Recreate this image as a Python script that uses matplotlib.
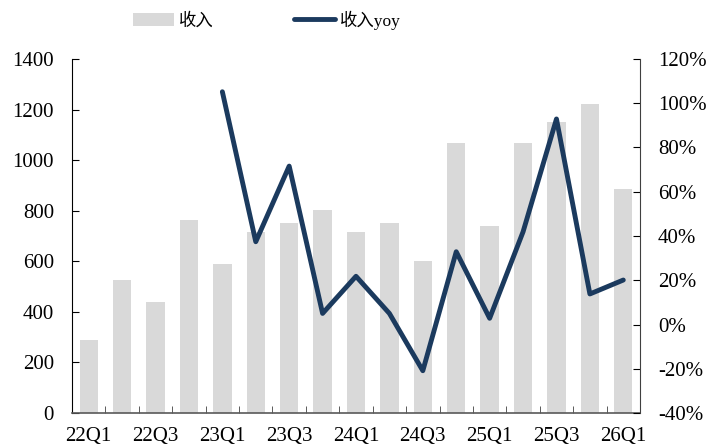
import matplotlib
matplotlib.use("Agg")
import matplotlib.pyplot as plt
import numpy as np
from matplotlib.lines import Line2D
from matplotlib.patches import Patch

quarters = ["22Q1","22Q2","22Q3","22Q4","23Q1","23Q2","23Q3","23Q4",
            "24Q1","24Q2","24Q3","24Q4","25Q1","25Q2","25Q3","25Q4","26Q1"]
revenue = [289, 525, 438, 765, 588, 717, 750, 804, 717, 751, 600, 1069, 738, 1066, 1151, 1221, 887]
yoy = [None, None, None, None, 105.2, 37.4, 71.6, 5.0, 21.8, 5.0, -20.9, 32.9, 2.8, 41.9, 92.9, 13.8, 20.1]

FONT = ["Liberation Serif", "Noto Sans CJK SC"]
plt.rcParams['font.family'] = FONT

fig = plt.figure(figsize=(7.08, 4.48), dpi=100)
ax = fig.add_axes([72/708, 35/448, 568/708, 354/448])
x = np.arange(len(quarters))
ax.bar(x, revenue, width=0.55, color="#d9d9d9", zorder=1)
ax.set_xlim(-0.5, len(quarters) - 0.5)
ax.set_ylim(0, 1400)
ax.set_yticks(range(0, 1401, 200))
ax.tick_params(axis='y', direction='in', length=5, labelsize=15, pad=13)
ax.set_xticks(x[::2])
ax.set_xticklabels(quarters[::2])
ax.set_xticks(x[:-1] + 0.5, minor=True)
ax.tick_params(axis='x', which='major', length=0, labelsize=15, pad=10)
ax.tick_params(axis='x', which='minor', direction='in', length=5, color="#404040")
for s in ['top', 'right']:
    ax.spines[s].set_visible(False)
ax.spines['bottom'].set_color("#595959")
ax.spines['bottom'].set_linewidth(1.2)

ax2 = ax.twinx()
xv = [i for i, v in enumerate(yoy) if v is not None]
yv = [v for v in yoy if v is not None]
ax2.plot(xv, yv, color="#1b3a5e", linewidth=3.5, solid_joinstyle='round',
         solid_capstyle='round', zorder=3)
ax2.set_ylim(-40, 120)
ax2.set_yticks(range(-40, 121, 20))
ax2.set_yticklabels([f"{v}%" for v in range(-40, 121, 20)])
ax2.tick_params(axis='y', direction='in', length=5, labelsize=15, pad=13)
for s in ['top', 'left', 'bottom']:
    ax2.spines[s].set_visible(False)
ax2.spines['right'].set_color("#404040")

handles = [Patch(facecolor="#d9d9d9", edgecolor="none"),
           Line2D([0], [0], color="#1b3a5e", linewidth=3.5, solid_capstyle='round')]
fig.legend(handles, ["收入", "收入yoy"], loc='center', bbox_to_anchor=(267/708, 1 - 20/448),
           ncol=2, frameon=False, columnspacing=4.6, handlelength=2.36,
           handletextpad=0.29, handleheight=0.8, prop={'family': FONT, 'size': 12.5})

fig.savefig("out.png", dpi=100)
